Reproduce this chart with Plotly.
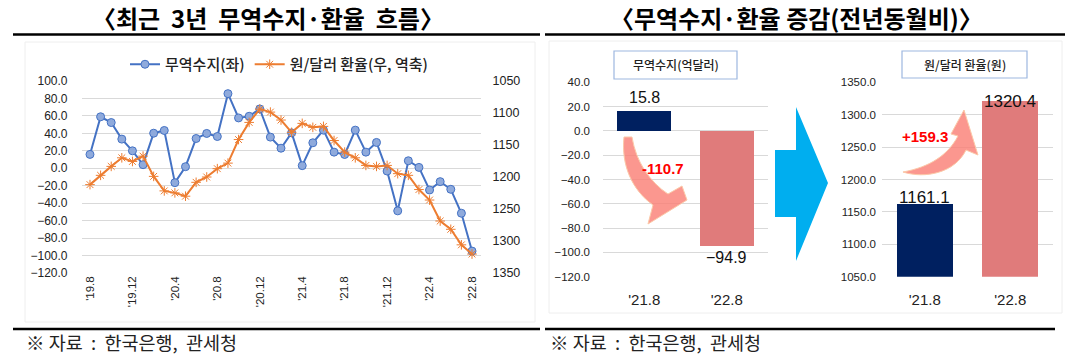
import plotly.graph_objects as go

W, H = 1074, 355

# ---------------- data ----------------
months = ["'19.8", "'19.9", "'19.10", "'19.11", "'19.12", "'20.1", "'20.2", "'20.3", "'20.4",
          "'20.5", "'20.6", "'20.7", "'20.8", "'20.9", "'20.10", "'20.11", "'20.12", "'21.1",
          "'21.2", "'21.3", "'21.4", "'21.5", "'21.6", "'21.7", "'21.8", "'21.9", "'21.10",
          "'21.11", "'21.12", "'22.1", "'22.2", "'22.3", "'22.4", "'22.5", "'22.6", "'22.7", "'22.8"]
trade_balance = [15.9, 59.0, 52.4, 33.4, 20.0, 4.1, 40.2, 43.3, -16.5, 1.8, 34.1, 39.9, 36.4,
                 85.5, 57.7, 59.6, 68.0, 35.7, 23.0, 40.6, 3.0, 29.2, 43.7, 18.5, 15.8, 43.7,
                 18.5, 29.6, -3.2, -48.8, 8.6, 1.0, -24.9, -15.3, -24.1, -51.5, -94.9]
fx_rate = [1211.9, 1197.4, 1183.4, 1170.0, 1175.7, 1167.4, 1199.0, 1221.7, 1224.8, 1230.0,
           1208.3, 1200.0, 1187.0, 1178.3, 1141.5, 1114.7, 1094.0, 1098.6, 1111.0, 1130.2,
           1116.2, 1122.4, 1120.9, 1143.0, 1161.1, 1170.0, 1181.9, 1183.4, 1181.9, 1194.8,
           1197.4, 1219.6, 1236.0, 1268.8, 1281.7, 1306.0, 1320.4]
tick_months = ["'19.8", "'19.12", "'20.4", "'20.8", "'20.12", "'21.4", "'21.8", "'21.12", "'22.4", "'22.8"]

comp_periods = ["'21.8", "'22.8"]
comp_trade = [15.8, -94.9]
comp_fx = [1161.1, 1320.4]

NAVY = "#002060"
SALMON = "#E07B7B"
BLUE = "#4472C4"
ORANGE = "#ED7D31"
GRID = "#D9D9D9"
NUMF = "Liberation Sans, Arial, Noto Sans CJK KR"
KRF = "Noto Sans CJK KR, Liberation Sans"
NB = "\u00a0"


def X(px):
    return px / W


def Y(py):
    return 1 - py / H


fig = go.Figure()

idx = list(range(len(months)))
tick_idx = [months.index(m) for m in tick_months]

fig.add_trace(go.Scatter(
    x=idx, y=trade_balance, mode="lines+markers", name="무역수지(좌)",
    line=dict(color=BLUE, width=2),
    marker=dict(symbol="circle", size=8, color="#8FAADC", line=dict(color=BLUE, width=1)),
    xaxis="x", yaxis="y"))
fig.add_trace(go.Scatter(
    x=idx, y=fx_rate, mode="lines+markers", name="원/달러 환율(우, 역축)",
    line=dict(color=ORANGE, width=2),
    marker=dict(symbol="asterisk-open", size=8, color=ORANGE, line=dict(color="#F4A46E", width=1)),
    xaxis="x", yaxis="y2"))

fig.add_trace(go.Bar(
    x=comp_periods, y=comp_trade, marker=dict(color=[NAVY, SALMON], line=dict(width=0)),
    width=0.66, showlegend=False, xaxis="x2", yaxis="y3"))
fig.add_trace(go.Bar(
    x=comp_periods, y=comp_fx, marker=dict(color=[NAVY, SALMON], line=dict(width=0)),
    width=0.66, showlegend=False, xaxis="x3", yaxis="y4"))

tickfont = dict(family=NUMF, size=12, color="#222")

fig.update_layout(
    width=W, height=H, margin=dict(l=0, r=0, t=0, b=0, autoexpand=False),
    paper_bgcolor="white", plot_bgcolor="white",
    showlegend=True,
    legend=dict(orientation="h", x=X(125), y=Y(48), xanchor="left", yanchor="top",
                font=dict(family=KRF, size=15, color="#222", weight=500),
                bgcolor="rgba(0,0,0,0)", itemwidth=30, tracegroupgap=0),
    xaxis=dict(domain=[X(81.5), X(480.5)], range=[-0.8, 36.8], anchor="y",
               tickvals=tick_idx, ticktext=tick_months, tickangle=-90,
               tickfont=dict(family=NUMF, size=11.5, color="#222"),
               showgrid=False, zeroline=False, showline=False, ticks=""),
    yaxis=dict(domain=[Y(273), Y(81)], range=[-120, 100], dtick=20, tickformat=".1f",
               gridcolor=GRID, zeroline=False, showline=False, ticks="",
               tickfont=tickfont, ticklabelstandoff=13),
    yaxis2=dict(overlaying="y", side="right", anchor="x", range=[1350, 1050], dtick=50,
                showgrid=False, zeroline=False, showline=False, ticks="",
                tickfont=dict(tickfont, size=12.5), ticklabelstandoff=11),
    xaxis2=dict(domain=[X(603), X(768)], anchor="y3", type="category", range=[-0.5, 1.5],
                showgrid=False, zeroline=False, showline=False, ticks="",
                tickfont=dict(family=NUMF, size=15, color="#222"), ticklabelstandoff=12),
    yaxis3=dict(domain=[Y(276.7), Y(82.3)], anchor="x2", range=[-120, 40], dtick=20,
                tickformat=".1f", gridcolor=GRID, zeroline=False, showline=False, ticks="",
                tickfont=dict(family=NUMF, size=11.5, color="#222"), ticklabelstandoff=12),
    xaxis3=dict(domain=[X(882), X(1053)], anchor="y4", type="category", range=[-0.5, 1.5],
                showgrid=False, zeroline=False, showline=False, ticks="",
                tickfont=dict(family=NUMF, size=15, color="#222"), ticklabelstandoff=12),
    yaxis4=dict(domain=[Y(276.7), Y(82.3)], anchor="x3", range=[1050, 1350], dtick=50,
                tickformat=".1f", gridcolor=GRID, zeroline=False, showline=False, ticks="",
                tickfont=dict(family=NUMF, size=11.5, color="#222"), ticklabelstandoff=5),
    bargap=0,
)

shapes = []
# title underlines and footer lines
for x0, x1 in ((13, 540), (545, 1065)):
    shapes.append(dict(type="line", xref="paper", yref="paper", x0=X(x0), x1=X(x1), y0=Y(34.5), y1=Y(34.5),
                       line=dict(color="black", width=2.5)))
for x0, x1 in ((13, 540), (545, 1055)):
    shapes.append(dict(type="line", xref="paper", yref="paper", x0=X(x0), x1=X(x1), y0=Y(329), y1=Y(329),
                       line=dict(color="black", width=2.5)))
# faint chart frames
shapes.append(dict(type="rect", xref="paper", yref="paper", x0=X(25), x1=X(535), y0=Y(322), y1=Y(42),
                   line=dict(color="#EEEEEE", width=1), layer="below"))
shapes.append(dict(type="rect", xref="paper", yref="paper", x0=X(549), x1=X(1062), y0=Y(313), y1=Y(41),
                   line=dict(color="#EEEEEE", width=1), layer="below"))
# box titles
shapes.append(dict(type="rect", xref="paper", yref="paper", x0=X(614), x1=X(737), y0=Y(79), y1=Y(51),
                   line=dict(color="#9DB7E0", width=1.2), fillcolor="white"))
shapes.append(dict(type="rect", xref="paper", yref="paper", x0=X(902), x1=X(1027), y0=Y(78), y1=Y(51),
                   line=dict(color="#9DB7E0", width=1.2), fillcolor="white"))


def path(pts_cmds):
    out = []
    for c in pts_cmds:
        if isinstance(c, str):
            out.append(c)
        else:
            out.append(f"{X(c[0]):.5f},{Y(c[1]):.5f}")
    return " ".join(out)


# big blue arrow
shapes.append(dict(type="path", xref="paper", yref="paper",
                   path=path(["M", (775, 150), "L", (796, 150), "L", (796, 107), "L", (828, 183),
                              "L", (796, 261), "L", (796, 217), "L", (775, 217), "Z"]),
                   fillcolor="#00AEEF", line=dict(color="#00AEEF", width=0)))
# curved arrow (down) in trade chart
shapes.append(dict(type="path", xref="paper", yref="paper",
                   path=path(["M", (624, 137), "C", (621, 165), (632, 190), (653, 205),
                              "L", (648, 224), "L", (687, 200), "L", (682, 186), "L", (668, 194),
                              "C", (650, 182), (636, 162), (632, 137), "Z"]),
                   fillcolor="rgba(250,125,115,0.8)", line=dict(color="#FBC9A8", width=1)))
# curved arrow (up) in fx chart
shapes.append(dict(type="path", xref="paper", yref="paper",
                   path=path(["M", (903, 172), "C", (925, 179), (955, 173), (966, 150),
                              "L", (978, 155), "L", (964, 110), "L", (951, 134), "L", (958, 136),
                              "C", (948, 155), (930, 167), (903, 172), "Z"]),
                   fillcolor="rgba(250,125,115,0.8)", line=dict(color="#FBC9A8", width=1)))
fig.update_layout(shapes=shapes)


def note(x, y, text, font, xanchor="center", yanchor="middle", **kw):
    d = dict(xref="paper", yref="paper", x=X(x), y=Y(y), text=text, showarrow=False,
             xanchor=xanchor, yanchor=yanchor, font=font)
    d.update(kw)
    return d


ann = []
title_font = dict(family=KRF, size=24, color="black", weight=700)
ann.append(note(268, 17.5, f"〈최근{NB}{NB}3년{NB}{NB}무역수지·환율{NB}{NB}흐름〉", title_font))
ann.append(note(796, 17.5, "〈무역수지·환율 증감(전년동월비)〉", title_font))
foot = f"※{NB}자료{NB}{NB}:{NB}{NB}한국은행,{NB}{NB}관세청"
for x0 in (24, 548):
    ann.append(note(x0, 341.5, foot, dict(family=KRF, size=18.5, color="#222"), xanchor="left"))
ann.append(note(675.5, 65, "무역수지(억달러)", dict(family=KRF, size=12, color="#222", weight=500)))
ann.append(note(964.5, 64.5, "원/달러 환율(원)", dict(family=KRF, size=12, color="#222", weight=500)))
# value labels
lab = dict(family=NUMF, size=16, color="#111")
ann.append(dict(xref="x2", yref="y3", x=comp_periods[0], y=comp_trade[0], xanchor="center", yanchor="bottom",
                yshift=4, text=f"{comp_trade[0]:.1f}", showarrow=False, font=lab))
ann.append(dict(xref="x2", yref="y3", x=comp_periods[1], y=comp_trade[1], xanchor="center", yanchor="top",
                yshift=-1, text=f"−{abs(comp_trade[1]):.1f}", showarrow=False, font=lab))
ann.append(dict(xref="x3", yref="y4", x=comp_periods[0], y=comp_fx[0], xanchor="center", yanchor="bottom",
                yshift=-4, text=f"{comp_fx[0]:.1f}", showarrow=False, font=dict(lab, size=17)))
ann.append(dict(xref="x3", yref="y4", x=comp_periods[1], y=comp_fx[1], xanchor="center", yanchor="middle",
                yshift=0, text=f"{comp_fx[1]:.1f}", showarrow=False, font=dict(lab, size=17)))
d_trade = comp_trade[1] - comp_trade[0]
d_fx = comp_fx[1] - comp_fx[0]
ann.append(note(663, 168, f"{d_trade:.1f}", dict(family=NUMF, size=15, color="#FF0000", weight=700)))
ann.append(note(925, 137, f"+{d_fx:.1f}", dict(family=NUMF, size=15, color="#FF0000", weight=700)))
fig.update_layout(annotations=ann)

fig.write_html("out.html", config={"displayModeBar": False},
               post_script="document.body.style.margin='0';document.body.style.overflow='hidden';")
